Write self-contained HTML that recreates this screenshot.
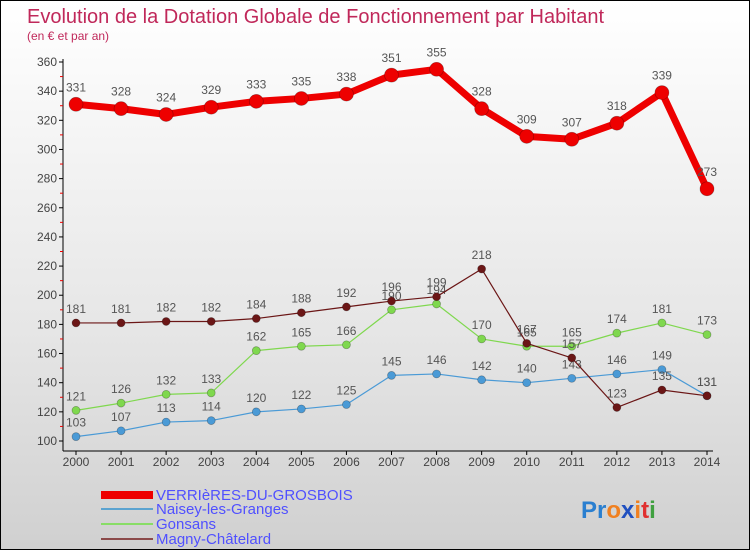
<!DOCTYPE html>
<html><head><meta charset="utf-8"><style>
body{margin:0}
#c{width:750px;height:550px;position:relative;overflow:hidden;box-sizing:border-box;border:1px solid #000;background:linear-gradient(#ffffff,#e6e6e6 60%,#d0d0d0);font-family:"Liberation Sans",sans-serif}
svg text{font-family:"Liberation Sans",sans-serif}
</style></head><body>
<div id="c">
<svg width="750" height="550" id="s">
<text x="26" y="22" font-size="20" fill="#c0285a">Evolution de la Dotation Globale de Fonctionnement par Habitant</text>
<text x="26" y="39" font-size="12" fill="#c0285a">(en € et par an)</text>
<g id="g"></g>
<g>
<rect x="100" y="490" width="52" height="8" fill="#ee0000"/>
<text x="155" y="499" font-size="15" fill="#5050ff">VERRIèRES-DU-GROSBOIS</text>
<rect x="100" y="507" width="52" height="2" fill="#5ba3d0"/>
<text x="155" y="513" font-size="15" fill="#5050ff">Naisey-les-Granges</text>
<rect x="100" y="522" width="52" height="2" fill="#88dd66"/>
<text x="155" y="528" font-size="15" fill="#5050ff">Gonsans</text>
<rect x="100" y="537" width="52" height="2" fill="#8b4a4a"/>
<text x="155" y="543" font-size="15" fill="#5050ff">Magny-Châtelard</text>
</g>
<text x="580" y="517" font-size="24" font-weight="bold"><tspan fill="#2a7fd0">Pr</tspan><tspan fill="#f08020">o</tspan><tspan fill="#2050c0">x</tspan><tspan fill="#f08020">i</tspan><tspan fill="#e03030">t</tspan><tspan fill="#40a040">i</tspan></text>
</svg></div>
<script>
const years=[2000,2001,2002,2003,2004,2005,2006,2007,2008,2009,2010,2011,2012,2013,2014];
const verrieres=[331,328,324,329,333,335,338,351,355,328,309,307,318,339,273];
const naisey=[103,107,113,114,120,122,125,145,146,142,140,143,146,149,131];
const gonsans=[121,126,132,133,162,165,166,190,194,170,165,165,174,181,173];
const magny=[181,181,182,182,184,188,192,196,199,218,167,157,123,135,131];
const yTicks=[100,120,140,160,180,200,220,240,260,280,300,320,340,360];
const NS="http://www.w3.org/2000/svg";
const g=document.getElementById('g');
const X=i=>75+i*(706-75)/(years.length-1);
const Y=v=>440-(v-100)*(440-61)/260;
function mk(t,a){const e=document.createElementNS(NS,t);for(const k in a)e.setAttribute(k,a[k]);g.appendChild(e);return e;}
let e=mk('line',{x1:62,y1:58,x2:62,y2:450,stroke:'#000'});


e=mk('line',{x1:62,y1:450,x2:712,y2:450,stroke:'#000'});


yTicks.forEach((v,k)=>{
 let t=mk('line',{x1:58,x2:62,y1:Y(v),y2:Y(v),stroke:'#000'});
 
 
 if(k<yTicks.length-1){
 let m=mk('line',{x1:59,x2:62,y1:Y(v+10),y2:Y(v+10),stroke:'#e00'});
 
 
 }
 let l=mk('text',{x:56,y:Y(v)+4,'font-size':12,fill:'#444','text-anchor':'end'});l.textContent=v;
 
 
});
years.forEach((yr,i)=>{
 let t=mk('line',{x1:X(i),x2:X(i),y1:450,y2:454,stroke:'#000'});
 
 
 let l=mk('text',{x:X(i),y:465,'font-size':12,fill:'#444','text-anchor':'middle'});l.textContent=yr;
 
 
});
function series(d,col,w,r,name){
 let p=mk('polyline',{points:d.map((v,i)=>X(i)+','+Y(v)).join(' '),fill:'none',stroke:col,'stroke-width':w,'stroke-linejoin':'round'});
 
 
 d.forEach((v,i)=>{
  let c=mk('circle',{cx:X(i),cy:Y(v),r:r,fill:col,stroke:'rgba(0,0,0,0.3)','stroke-width':0.7});
  
  
  let l=mk('text',{x:X(i),y:Y(v)-(r+6),'font-size':12,fill:'#555','text-anchor':'middle'});l.textContent=v;
  
  
 });
}
series(naisey,'#4a9ad6',1.2,4,'naisey');
series(gonsans,'#7fd84e',1.2,4,'gonsans');
series(magny,'#6b1616',1.2,4,'magny');
series(verrieres,'#ee0000',7,7,'verrieres');
</script>
</body></html>
